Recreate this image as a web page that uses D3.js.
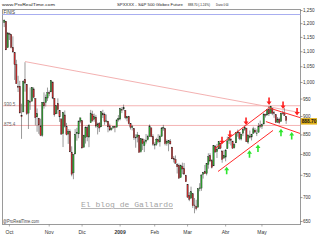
<!DOCTYPE html>
<html><head><meta charset="utf-8">
<script src="https://cdn.jsdelivr.net/npm/d3@7"></script>
<style>body{margin:0;background:#fff}svg{display:block}</style>
</head><body>
<svg id="c" width="320" height="240"></svg>
<script>
const dates = [
"2008-09-26","2008-09-29","2008-09-30",
"2008-10-01","2008-10-02","2008-10-03","2008-10-06","2008-10-07","2008-10-08","2008-10-09","2008-10-10","2008-10-13","2008-10-14","2008-10-15","2008-10-16","2008-10-17","2008-10-20","2008-10-21","2008-10-22","2008-10-23","2008-10-24","2008-10-27","2008-10-28","2008-10-29","2008-10-30","2008-10-31",
"2008-11-03","2008-11-04","2008-11-05","2008-11-06","2008-11-07","2008-11-10","2008-11-11","2008-11-12","2008-11-13","2008-11-14","2008-11-17","2008-11-18","2008-11-19","2008-11-20","2008-11-21","2008-11-24","2008-11-25","2008-11-26","2008-11-28",
"2008-12-01","2008-12-02","2008-12-03","2008-12-04","2008-12-05","2008-12-08","2008-12-09","2008-12-10","2008-12-11","2008-12-12","2008-12-15","2008-12-16","2008-12-17","2008-12-18","2008-12-19","2008-12-22","2008-12-23","2008-12-24","2008-12-26","2008-12-29","2008-12-30","2008-12-31",
"2009-01-02","2009-01-05","2009-01-06","2009-01-07","2009-01-08","2009-01-09","2009-01-12","2009-01-13","2009-01-14","2009-01-15","2009-01-16","2009-01-20","2009-01-21","2009-01-22","2009-01-23","2009-01-26","2009-01-27","2009-01-28","2009-01-29","2009-01-30",
"2009-02-02","2009-02-03","2009-02-04","2009-02-05","2009-02-06","2009-02-09","2009-02-10","2009-02-11","2009-02-12","2009-02-13","2009-02-17","2009-02-18","2009-02-19","2009-02-20","2009-02-23","2009-02-24","2009-02-25","2009-02-26","2009-02-27",
"2009-03-02","2009-03-03","2009-03-04","2009-03-05","2009-03-06","2009-03-09","2009-03-10","2009-03-11","2009-03-12","2009-03-13","2009-03-16","2009-03-17","2009-03-18","2009-03-19","2009-03-20","2009-03-23","2009-03-24","2009-03-25","2009-03-26","2009-03-27","2009-03-30","2009-03-31",
"2009-04-01","2009-04-02","2009-04-03","2009-04-06","2009-04-07","2009-04-08","2009-04-09","2009-04-13","2009-04-14","2009-04-15","2009-04-16","2009-04-17","2009-04-20","2009-04-21","2009-04-22","2009-04-23","2009-04-24","2009-04-27","2009-04-28","2009-04-29","2009-04-30",
"2009-05-01","2009-05-04","2009-05-05","2009-05-06","2009-05-07","2009-05-08","2009-05-11","2009-05-12","2009-05-13","2009-05-14","2009-05-15","2009-05-18","2009-05-19","2009-05-20","2009-05-21"];

const open = [1204.5,1209,1113.8,
1164,1160.6,1115.2,1097.6,1057.6,988.9,988.4,902.3,912.8,1010,994.6,909.5,942.3,943.5,980.4,951.7,899.1,895.2,874.3,848.9,939.5,939.4,953.1,
968.7,971.3,1001.8,952.4,907.4,936.8,917.2,893.4,853.1,904.4,873.2,852.3,859,805.9,755.8,801.2,853.4,852.9,886.9,
888.6,817.9,843.6,869.8,844.4,882.7,906.5,892.2,898.4,871.8,881.1,871.5,908.2,905,887,887.2,874.3,863.9,869.5,872.4,870.6,890.6,
893,919.2,921.2,917.5,895.7,899.9,880.4,869.8,867.3,842,844.5,849.6,806.8,839.7,822.2,832.5,837.3,845.7,868.9,845.7,
823.1,825.7,837.8,831.8,846.1,868.2,866.9,827.4,829.9,834,818.6,791.1,787.9,775.9,773.3,744.7,770.6,765.8,749.9,
729.6,704.4,698.6,708.3,684,680.8,679.3,719.6,720.9,752,758.8,753.9,776,797.9,784.6,772.3,820.6,806.8,814.1,828.7,809.1,790.9,
793.6,814.5,835.1,839.8,834.1,816.8,829.3,855.3,856.9,839.4,854.5,865.2,868.3,831.3,847.3,844.6,853.9,862.8,854,856.9,876.6,
872.7,879.2,906.1,903.9,919.6,909,923,910.5,905.4,884.2,892.8,886.1,909.7,908.6,900.4];

const high = [1215.8,1209,1168,
1167,1160.6,1153.8,1097.6,1072.9,1021.1,1005.3,936.4,1006.9,1065,994.6,947.7,984.6,985.4,985.4,951.7,922.8,896.3,893.8,940.5,970,963.2,984.4,
975.6,1007.5,1001.8,952.4,931.5,952,917.2,893.4,913,916.9,882.3,865.9,864.6,820.5,801.2,865.6,868.9,887.7,896.3,
888.6,850.5,873.1,875.6,879.4,918.6,916.3,908.3,904.6,883.2,884.6,914.7,918.9,911,905.5,887.4,880.4,869.8,873.7,873.7,891.1,904,
924.7,926.6,933.9,917.5,900,901.9,882,877,867.3,851.6,858.1,849.6,841.7,839.7,838.6,852.5,850.5,877.9,868.9,851.7,
830.8,842.6,851.9,850.6,870.8,877,868.1,838.2,835.5,839.4,818.6,796.2,797.6,778.7,777.9,775.5,780.1,779.4,751.3,
729.6,711.7,724.1,708.3,699.1,695.3,719.6,731.9,752.6,758.3,774.5,778.1,803,803.2,788.9,823.4,823.7,826.8,833,828.7,809.1,810.5,
813.6,845.6,842.5,839.8,834.1,828.4,856.9,864.3,856.9,852.9,870.4,875.6,868.3,850.1,861.8,852.9,871.8,868.8,864.5,882.1,888.7,
880.5,907.9,907.7,920.3,929.6,930.2,923,915.6,905.4,898.4,897,910,916.4,924.6,900.4];

const low = [1187.5,1106,1113.8,
1140.8,1111.4,1098.1,1008,996.2,971,909.2,839.8,912.8,972.1,904,865.8,918.7,943.5,952.5,875.8,858.4,852.9,846.8,845.3,922.3,928.5,944.6,
958.6,971.3,949.9,899.7,906.9,907.5,884.9,850.5,818.7,869.9,849,826.8,806.2,747.8,741,801.2,835,841.4,881.2,
815.7,817.9,827.6,833.6,818.4,882.7,885.4,885.5,868.7,851.4,857.7,871.5,895.9,877.4,883,857.1,860.1,861.4,866.5,857.1,870.6,886,
889.4,909.5,917.3,892.4,886.8,878.3,864.3,862,836.9,817,830.7,804.5,804.3,811.3,806.1,827.7,835.4,845.7,844,821.7,
812.9,822,829.2,819.9,845.4,861.1,823,822.1,808.1,825.2,789.2,780.4,777,754.3,742.4,744.7,752.9,751.8,734.5,
699.7,692.3,698.6,677.9,666.8,672.9,679.3,713.9,714.8,742.5,753.4,749.9,765.6,781.8,766.2,772.3,805.5,791.4,814.1,813.4,779.8,790.9,
783.3,814.5,826.7,822.8,814.5,814.8,829.3,845.4,836.5,835.6,847,860.9,832.4,826.8,840.6,835.6,853.9,854.7,847.1,856.9,868.2,
866.1,879.2,897.3,903.9,901.4,909,903.7,896.5,882,882.5,878.9,886.1,905.2,901.4,879.6];

const close = [1213.3,1106.4,1166.4,
1161.1,1114.3,1099.2,1056.9,996.2,984.9,909.9,899.2,1003.4,998,907.8,946.4,940.6,985.4,955.1,896.8,908.1,876.8,848.9,940.5,930.1,954.1,968.8,
966.3,1005.8,952.8,904.9,931,919.2,899,852.3,911.3,873.3,850.8,859.1,806.6,752.4,800,851.8,857.4,887.7,896.2,
816.2,848.8,870.7,845.2,876.1,909.7,888.7,899.2,873.6,879.7,868.6,913.2,904.4,885.3,887.9,871.6,863.2,868.2,872.8,869.4,890.6,895,
921.8,917.5,924.7,896.7,899.7,880.4,870.3,871.8,842.6,843.7,850.1,805.2,840.2,827.5,832,836.6,845.7,874.1,845.1,825.9,
825.4,838.5,832.2,845.9,868.6,869.9,827.2,833.7,835.2,826.8,789.2,788.4,778.9,770.1,743.3,773.1,764.9,752.8,735.1,
700.8,696.3,712.9,682.6,683.4,676.5,719.6,721.4,750.7,756.6,753.9,778.1,794.4,784,768.5,822.9,806.1,813.9,832.9,815.9,787.5,797.9,
811.1,834.4,842.5,835.5,815.6,825.2,856.6,858.7,841.5,852.1,865.3,869.6,832.4,850.1,843.6,851.9,866.2,857.5,855.2,873.6,872.8,
877.5,907.2,903.8,919.5,907.4,929.2,909.2,908.4,883.9,893.1,882.9,909.7,908.1,903.5,888.7];

const yTicks = [1250,1200,1150,1100,1050,1000,950,900,850,800,750,700,650];
const monthLabels = ["Oct","Nov","Dic","2009","Feb","Mar","Abr","May"];
const monthStarts = ["2008-10-01","2008-11-03","2008-12-01","2009-01-02","2009-02-02","2009-03-02","2009-04-01","2009-05-01"];

const levels = [930.5, 875.4];
const lastPrice = 888.70;
// trend lines: [tradingDayIndex, value] pairs
const longLine = [[12.0,1067],[171,911]];
const redLines = [
  [[121.9,815],[152.5,922]],
  [[123.6,759],[155.4,862]],
  [[152.5,925],[171,897]],
  [[151.3,886],[171,854]]
];
const redArrowIdx = [125.9,130.5,139.8,153.1,161.2,169.3];
const redArrowVal = [835,851,886,943,931,912.5];
const greenArrowIdx = [128.6,141.8,146.7,160.0,166.2];
const greenArrowVal = [762,802,816,857,848.5];

const svg = d3.select("#c");
const L = 2.5, R = 300.5, T = 9.5, B = 224;
const x = d3.scaleLinear().domain([-1, 171]).range([L, 300]);
const y = d3.scaleLog().domain([645, 1252]).range([B, T + 0.5]);
const font = "'Liberation Sans', Arial, sans-serif";

// header: texts squeezed horizontally to the reference widths
function hdr(xp, len, txt){
  const t = svg.append("text").attr("x",0).attr("y",0).attr("font-family",font).attr("font-size",4.4)
    .attr("fill","#222").text(txt);
  const w = t.node().getComputedTextLength();
  t.attr("transform", `translate(${xp},6.3) scale(${len/w},1)`);
}
hdr(2, 53, "www.ProRealTime.com");
hdr(117, 66, "SPXXXX - S&P 500 Globex Future");
hdr(188, 22, d3.format(".2f")(lastPrice)+" (-1.24%)");
hdr(216, 12.5, "Diario 0:00");

// frame
svg.append("rect").attr("x",L).attr("y",T).attr("width",R-L).attr("height",B+0.5-T)
  .attr("fill","#fff").attr("stroke","#9a9a9a").attr("stroke-width",1);
svg.append("line").attr("x1",L).attr("x2",R).attr("y1",14.5).attr("y2",14.5)
  .attr("stroke","#a8aef0").attr("stroke-width",1);
svg.append("text").attr("x",3.5).attr("y",14.2).attr("font-family",font).attr("font-size",4.5)
  .attr("fill","#333").text("FINIS");

svg.append("defs").append("clipPath").attr("id","clip").append("rect")
  .attr("x",L+0.5).attr("y",T+0.5).attr("width",R-L-1).attr("height",B-T-0.5);
const g = svg.append("g").attr("clip-path","url(#clip)");

// horizontal levels
levels.forEach(v=>{
  g.append("line").attr("x1",L).attr("x2",R).attr("y1",y(v)).attr("y2",y(v))
    .attr("stroke","#f4b3b3").attr("stroke-width",1);
  g.append("text").attr("x",4).attr("y",y(v)+0.5).attr("font-family",font).attr("font-size",4.5)
    .attr("fill","#666").text(String(v));
});
// long pink diagonal
g.append("line").attr("x1",x(longLine[0][0])).attr("y1",y(longLine[0][1]))
  .attr("x2",x(longLine[1][0])).attr("y2",y(longLine[1][1]))
  .attr("stroke","#f2a8a8").attr("stroke-width",0.9);

// watermark
g.append("text").attr("x",81).attr("y",207).attr("font-family","'Liberation Mono','DejaVu Sans Mono',monospace")
  .attr("font-size",8).attr("fill","#a4a4a4").attr("text-decoration","underline")
  .attr("textLength",92).attr("lengthAdjust","spacingAndGlyphs").text("El blog de Gallardo");
g.append("text").attr("x",3).attr("y",222.5).attr("font-family",font).attr("font-size",4.5)
  .attr("fill","#444").attr("textLength",36).attr("lengthAdjust","spacingAndGlyphs").text("@ProRealTime.com");

// candles
const bw = 1.3;
const cg = g.append("g");
dates.forEach((d,i)=>{
  const cx = x(i);
  cg.append("line").attr("x1",cx).attr("x2",cx).attr("y1",y(high[i])).attr("y2",y(low[i]))
    .attr("stroke","#555").attr("stroke-width",0.6);
  const up = close[i] >= open[i];
  const y1 = y(Math.max(open[i],close[i])), y2 = y(Math.min(open[i],close[i]));
  cg.append("rect").attr("x",cx-bw/2).attr("y",y1).attr("width",bw).attr("height",Math.max(0.6,y2-y1))
    .attr("fill", up ? "#2fa82f" : "#d42a2a").attr("stroke","#222").attr("stroke-width",0.35);
});

// red channel lines
redLines.forEach(l=>{
  g.append("line").attr("x1",x(l[0][0])).attr("y1",y(l[0][1])).attr("x2",x(l[1][0])).attr("y2",y(l[1][1]))
    .attr("stroke","#ff2a2a").attr("stroke-width",1);
});

// arrows
function arrow(cx, cy, dir, color){
  const s = dir; // 1 = down, -1 = up
  const p = d3.path();
  p.moveTo(cx-0.8, cy-4*s); p.lineTo(cx+0.8, cy-4*s); p.lineTo(cx+0.8, cy);
  p.lineTo(cx+2.5, cy); p.lineTo(cx, cy+3.5*s); p.lineTo(cx-2.5, cy); p.lineTo(cx-0.8, cy); p.closePath();
  g.append("path").attr("d",p.toString()).attr("fill",color);
}
redArrowIdx.forEach((d,k)=>arrow(x(d), y(redArrowVal[k]), 1, "#ff2020"));
greenArrowIdx.forEach((d,k)=>arrow(x(d), y(greenArrowVal[k]), -1, "#2ee62e"));

// right axis
yTicks.forEach(v=>{
  svg.append("line").attr("x1",R).attr("x2",R+2).attr("y1",y(v)).attr("y2",y(v)).attr("stroke","#555").attr("stroke-width",0.6);
  svg.append("text").attr("x",303).attr("y",y(v)+1.5).attr("font-family",font).attr("font-size",4.6)
    .attr("fill","#333").text(d3.format(",")(v));
});
// last price label
svg.append("rect").attr("x",301).attr("y",y(lastPrice)-2.5).attr("width",16).attr("height",6.5).attr("fill","#e2b21c");
svg.append("text").attr("x",309).attr("y",y(lastPrice)+2.4).attr("text-anchor","middle").attr("font-family",font)
  .attr("font-size",4.8).attr("font-weight","bold").attr("fill","#111").text(d3.format(".2f")(lastPrice));

// x axis
monthStarts.forEach((m,k)=>{
  const i = dates.indexOf(m);
  svg.append("line").attr("x1",x(i)).attr("x2",x(i)).attr("y1",B+0.5).attr("y2",B+2.5).attr("stroke","#777").attr("stroke-width",0.6);
  svg.append("text").attr("x",x(i)).attr("y",234).attr("text-anchor","middle").attr("font-family",font)
    .attr("font-size",5).attr("font-weight", monthLabels[k]==="2009" ? "bold" : "normal")
    .attr("fill","#333").text(monthLabels[k]);
});
</script>
</body></html>
